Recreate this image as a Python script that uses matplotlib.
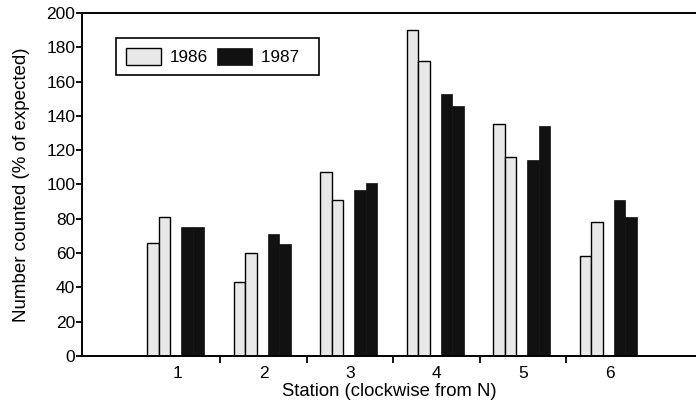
import matplotlib.pyplot as plt
import numpy as np

plt.rcParams['font.family'] = ['Liberation Sans', 'DejaVu Sans']

stations = [1, 2, 3, 4, 5, 6]
y1986_a = [66, 43, 107, 190, 135, 58]
y1986_b = [81, 60, 91, 172, 116, 78]
y1987_a = [75, 71, 97, 153, 114, 91]
y1987_b = [75, 65, 101, 146, 134, 81]

fig = plt.figure(figsize=(6.96, 4.04), dpi=100)
ax = fig.add_axes([0.118, 0.119, 0.882, 0.849])

x = np.array(stations, dtype=float)
w = 0.133
light = '#e8e8e8'
dark = '#111111'

ax.bar(x - 0.28, y1986_a, w, color=light, edgecolor='black', linewidth=1.0, label='1986')
ax.bar(x - 0.147, y1986_b, w, color=light, edgecolor='black', linewidth=1.0)
ax.bar(x + 0.115, y1987_a, w, color=dark, edgecolor=dark, linewidth=0.5, label='1987  ')
ax.bar(x + 0.248, y1987_b, w, color=dark, edgecolor=dark, linewidth=0.5)

ax.set_xlim(-0.1, 7.0)
ax.set_ylim(0, 200)
ax.set_yticks(np.arange(0, 201, 20))

ax.set_xticks([1.5, 2.5, 3.5, 4.5, 5.5])
ax.set_xticklabels([])
ax.set_xticks(x, minor=True)
ax.set_xticklabels([str(s) for s in stations], minor=True)
ax.tick_params(axis='x', which='minor', length=0, pad=7)
ax.tick_params(axis='x', which='major', length=5, width=1.3, direction='out')
ax.tick_params(axis='y', length=4, width=1.3, direction='out', pad=1)
ax.tick_params(which='both', labelsize=12.5)

for sp in ['left', 'bottom', 'top']:
    ax.spines[sp].set_linewidth(1.4)
ax.spines['right'].set_visible(False)

ax.set_xlabel('Station (clockwise from N)', fontsize=13.3, labelpad=2)
ax.set_ylabel('Number counted (% of expected)', fontsize=13.5, labelpad=12)

leg = ax.legend(ncol=2, loc='upper left', bbox_to_anchor=(0.055, 0.927),
                fontsize=12.3, frameon=True, fancybox=False, framealpha=1,
                edgecolor='black', handlelength=2.05, handleheight=1.2,
                columnspacing=0.5, handletextpad=0.55, borderpad=0.58,
                borderaxespad=0)
leg.get_frame().set_linewidth(1.2)

fig.savefig('out.png', dpi=100)
